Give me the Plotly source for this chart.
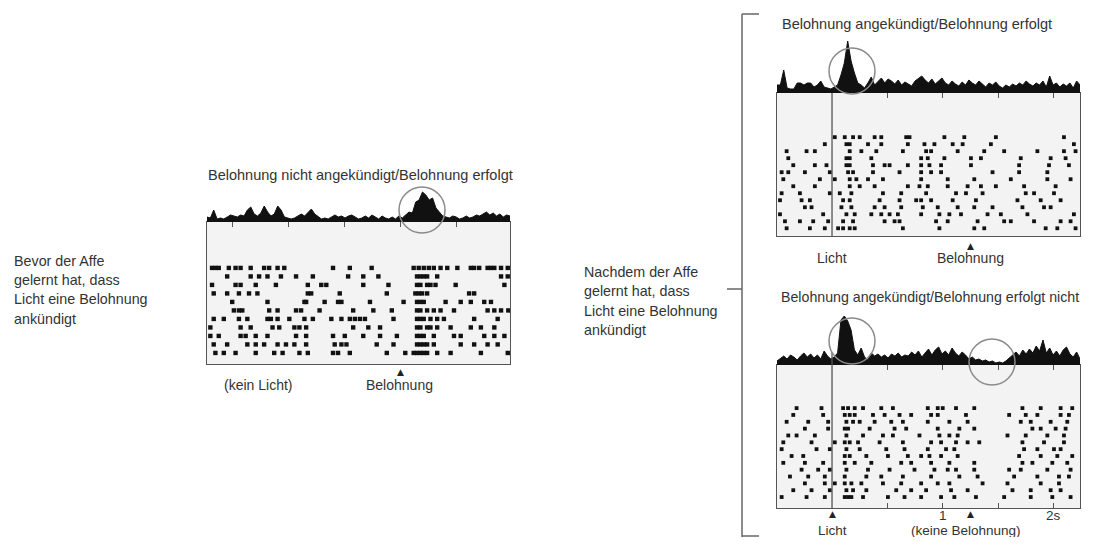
import numpy as np
import plotly.graph_objects as go

# The page body has an 8px margin, so the figure is drawn 8px smaller and
# every reference pixel position is shifted by that margin.
OFF = 8
W, H = 1094 - 2 * OFF, 545 - 2 * OFF
FONT = "Liberation Sans, Arial, Helvetica, sans-serif"
TXT = "#333333"
BOX = "#555555"
DOT = "#111111"

# ---------------- data ----------------
# Left panel: time in ms relative to reward
left_range = [-1725, 980]
left_ticks = [-1500, -1000, -500, 0, 500]
left_hist = [5, 4, 12, 3, 4, 3, 5, 7, 6, 5,
             7, 6, 12, 15, 8, 6, 9, 16, 10, 6,
             8, 16, 12, 5, 4, 3, 4, 6, 8, 6,
             9, 13, 8, 5, 3, 4, 3, 5, 7, 5,
             6, 4, 6, 7, 5, 3, 4, 6, 4, 7,
             5, 3, 6, 4, 3, 5, 3, 6, 4, 7,
             10, 9, 20, 22, 30, 27, 22, 24, 14, 10,
             6, 5, 4, 6, 5, 3, 4, 6, 4, 5,
             7, 6, 8, 10, 7, 9, 6, 8, 5, 7,
             6]
left_raster = [
    [-1680, -1650, -1620, -1530, -1470, -1425, -1335, -1215, -1170, -1095, -1035, -600, -450, -255, 120, 165, 210, 255, 300, 360, 420, 510, 630, 660, 705, 780, 810, 840, 900, 960],
    [-1545, -1335, -1260, -1185, -1065, -930, -780, -465, -330, -195, 150, 180, 210, 240, 330, 900, 960],
    [-1680, -1470, -1425, -1290, -1110, -825, -705, -660, -330, -105, 150, 180, 240, 270, 315, 495, 930],
    [-1665, -1545, -1440, -1350, -1275, -825, -795, -540, -120, 135, 165, 195, 240, 615, 660],
    [-1500, -1185, -855, -840, -675, -555, -525, -270, 30, 150, 180, 210, 405, 540, 630, 750, 810],
    [-1485, -1440, -1410, -1170, -1095, -930, -885, -720, -420, -240, -75, 150, 180, 240, 300, 360, 480, 780, 840, 900, 965],
    [-1665, -1575, -1440, -1365, -1185, -1155, -1095, -990, -855, -780, -615, -525, -450, -405, -360, -315, -60, 150, 180, 210, 270, 330, 390, 660, 870],
    [-1695, -1425, -1335, -1140, -1080, -945, -900, -840, -420, -285, -180, 150, 180, 240, 270, 330, 450, 630, 720, 840],
    [-1695, -1620, -1425, -1380, -1290, -1185, -930, -840, -600, -495, -330, -180, -30, 150, 180, 210, 300, 480, 540, 750, 840, 930],
    [-1665, -1545, -1365, -1290, -1215, -1095, -1020, -945, -840, -585, -525, -480, -210, -60, 150, 180, 210, 240, 300, 540, 660, 780, 870],
    [-1650, -1575, -1470, -1290, -1125, -1050, -900, -825, -600, -555, -450, -120, 45, 120, 150, 180, 210, 240, 330, 450, 720, 960],
]

# Right panels: time in ms relative to light onset
right_range = [-497, 2240]
right_ticks = [500, 1000, 1500, 2000]
right_label_vals = [1000, 2000]
right_label_text = ["1", "2s"]
reward_time = 1250

top_hist = [8, 8, 23, 5, 4, 4, 10, 10, 8, 10,
            10, 6, 8, 12, 6, 5, 4, 6, 8, 18,
            30, 52, 32, 20, 10, 8, 5, 10, 16, 8,
            12, 15, 10, 14, 12, 9, 13, 8, 11, 9,
            7, 12, 15, 17, 13, 10, 14, 9, 12, 15,
            10, 8, 12, 9, 7, 11, 8, 13, 10, 8,
            12, 9, 6, 10, 8, 11, 7, 5, 8, 6,
            9, 7, 10, 8, 12, 9, 7, 10, 8, 12,
            6, 17, 8, 10, 6, 9, 7, 10, 5, 12,
            8]
top_raster = [
    [25, 115, 190, 250, 385, 445, 670, 700, 1015, 1195, 1480, 2095],
    [-65, 130, 160, 325, 445, 685, 835, 925, 1090, 1180, 1435, 2185],
    [-410, -230, -155, 160, 265, 400, 640, 850, 895, 1135, 1375, 1555, 1855, 2095, 2200],
    [-395, 130, 160, 355, 805, 865, 1015, 1255, 1345, 1705, 1975, 2110],
    [-350, -155, -50, 130, 160, 370, 475, 520, 685, 805, 880, 985, 1255, 1690, 1960, 2140],
    [-455, -395, -245, -20, 145, 190, 370, 610, 805, 895, 985, 1450, 1690, 1945],
    [-440, -110, 25, 160, 220, 325, 460, 805, 1045, 1285, 1615, 1945, 2155],
    [-350, -155, 160, 250, 385, 685, 790, 865, 1045, 1225, 1345, 1480, 1735, 2020],
    [-455, -290, -20, 70, 175, 460, 625, 850, 1120, 1210, 1360, 1750, 1825, 2005],
    [-470, -275, -200, 100, 160, 430, 610, 760, 805, 895, 1090, 1300, 1675, 1885, 2065],
    [-245, -185, 85, 175, 385, 475, 625, 820, 955, 1135, 1285, 1450, 1720, 1915, 1975],
    [-470, -80, 130, 205, 355, 445, 520, 595, 805, 970, 1060, 1165, 1405, 1525, 1765, 2185],
    [-425, -290, -170, -35, 100, 190, 475, 565, 610, 940, 1045, 1315, 1555, 1615, 1825, 2065, 2155],
    [-410, -200, -65, 55, 100, 160, 205, 640, 970, 1285, 1375, 1930, 2035, 2200],
]

bottom_hist = [4, 7, 9, 6, 10, 8, 5, 9, 12, 8,
               11, 7, 10, 6, 14, 9, 6, 8, 12, 45,
               49, 44, 35, 15, 10, 17, 8, 5, 12, 9,
               11, 8, 10, 7, 11, 9, 12, 8, 10, 9,
               13, 10, 14, 8, 12, 16, 10, 15, 18, 11,
               14, 10, 17, 12, 9, 13, 10, 6, 8, 5,
               6, 4, 5, 3, 4, 2, 3, 2, 4, 7,
               10, 13, 9, 15, 11, 16, 12, 19, 14, 25,
               12, 17, 10, 14, 9, 15, 18, 11, 8, 13,
               6]
bottom_raster = [
    [-320, -95, 100, 145, 205, 280, 445, 550, 865, 955, 1000, 1120, 1285, 1720, 1885, 2065, 2170],
    [-350, -80, 115, 160, 205, 370, 475, 610, 715, 895, 955, 1210, 1600, 1750, 1855, 2065, 2140],
    [-410, -215, -35, 130, 190, 250, 385, 535, 640, 865, 1060, 1225, 1705, 1795, 1975, 2125],
    [-245, -35, 115, 145, 340, 565, 670, 955, 1150, 1285, 1810, 1885, 2020, 2110],
    [-395, -320, -155, 130, 280, 460, 550, 790, 970, 1060, 1135, 1585, 1750, 1945, 2095],
    [-440, -185, 25, 115, 160, 235, 430, 640, 895, 985, 1120, 1225, 1330, 1720, 1915, 2095],
    [-455, -140, -20, 130, 250, 490, 655, 865, 1030, 1105, 1735, 1855, 2005, 2065],
    [-365, -260, 115, 160, 310, 505, 685, 805, 880, 985, 1135, 1690, 1885, 2035, 2170],
    [-440, -245, -80, 115, 205, 355, 625, 715, 895, 1060, 1285, 1720, 1810, 1990, 2125],
    [-275, -125, -20, 130, 325, 520, 745, 925, 1045, 1120, 1285, 1600, 1705, 1945, 2155],
    [-380, -215, -65, 115, 310, 445, 640, 895, 1150, 1315, 1645, 1855, 2050, 2140],
    [-245, -65, 25, 115, 175, 265, 460, 625, 805, 955, 1060, 1360, 1585, 1885, 2050],
    [-350, -185, -20, 130, 190, 310, 580, 715, 850, 1075, 1225, 1630, 1795, 1975, 2065],
    [-455, -230, -65, 115, 145, 175, 280, 505, 655, 805, 985, 1105, 1300, 1555, 1795, 1990, 2155],
]

# ---------------- helpers ----------------
def px(x):
    return (x - OFF) / W


def py(y):
    return 1 - (y - OFF) / H


fig = go.Figure()


def add_raster(rows, xa, ya, size):
    xs, ys = [], []
    for i, row in enumerate(rows):
        xs += row
        ys += [i + 1] * len(row)
    fig.add_trace(go.Scatter(x=xs, y=ys, mode="markers", xaxis=xa, yaxis=ya,
                             marker=dict(symbol="square", size=size, color=DOT, line=dict(width=0)),
                             hoverinfo="skip", showlegend=False))


def add_hist(vals, rng, xa, ya):
    xs = np.linspace(rng[0], rng[1], len(vals))
    fig.add_trace(go.Scatter(x=xs, y=vals, mode="lines", fill="tozeroy", xaxis=xa, yaxis=ya,
                             line=dict(color=DOT, width=1), fillcolor=DOT,
                             hoverinfo="skip", showlegend=False))


add_raster(left_raster, "x", "y", 4.4)
add_hist(left_hist, left_range, "x2", "y2")
add_raster(top_raster, "x3", "y3", 3.8)
add_hist(top_hist, right_range, "x4", "y4")
add_raster(bottom_raster, "x5", "y5", 3.8)
add_hist(bottom_hist, right_range, "x6", "y6")

# panel geometry (reference pixels)
L = dict(x0=207, x1=510, box_top=222, box_bot=364, hist_top=162)
TR = dict(x0=777, x1=1080, box_top=93, box_bot=236, hist_top=33)
BR = dict(x0=777, x1=1080, box_top=365, box_bot=508, hist_top=305)


def xa_raster(g, rng, tickvals, side, mirror, anchor="y"):
    return dict(domain=[px(g["x0"]), px(g["x1"])], range=rng, anchor=anchor,
                showline=True, linecolor=BOX, linewidth=1.3, mirror=mirror, side=side,
                ticks="inside", ticklen=5, tickwidth=1.2, tickcolor=BOX,
                tickvals=tickvals, showticklabels=False,
                showgrid=False, zeroline=False, fixedrange=True)


def ya_raster(g, rng, anchor):
    return dict(domain=[py(g["box_bot"]), py(g["box_top"])], range=rng, anchor=anchor,
                showline=True, linecolor=BOX, linewidth=1.3, mirror=True,
                ticks="", showticklabels=False, showgrid=False, zeroline=False, fixedrange=True)


def xa_hist(g, rng, anchor):
    return dict(domain=[px(g["x0"]), px(g["x1"])], range=rng, anchor=anchor, visible=False,
                showgrid=False, zeroline=False, fixedrange=True)


def ya_hist(g, anchor):
    return dict(domain=[py(g["box_top"]), py(g["hist_top"])], range=[0, 60], anchor=anchor,
                visible=False, showgrid=False, zeroline=False, fixedrange=True)


fig.update_layout(
    width=W, height=H, margin=dict(l=0, r=0, t=0, b=0),
    paper_bgcolor="white", plot_bgcolor="rgba(0,0,0,0)",
    showlegend=False,
    xaxis=xa_raster(L, left_range, left_ticks, "top", True, anchor="y"),
    yaxis=ya_raster(L, [12.3, -4.4], "x"),
    xaxis2=xa_hist(L, left_range, "y2"),
    yaxis2=ya_hist(L, "x2"),
    xaxis3=xa_raster(TR, right_range, right_ticks, "top", True, anchor="y3"),
    yaxis3=ya_raster(TR, [15.1, -5.3], "x3"),
    xaxis4=xa_hist(TR, right_range, "y4"),
    yaxis4=ya_hist(TR, "x4"),
    xaxis5=xa_raster(BR, right_range, right_ticks, "bottom", "ticks", anchor="y5"),
    yaxis5=ya_raster(BR, [15.6, -5.3], "x5"),
    xaxis6=xa_hist(BR, right_range, "y6"),
    yaxis6=ya_hist(BR, "x6"),
)

shapes = []
# raster backgrounds
for g in (L, TR, BR):
    shapes.append(dict(type="rect", xref="paper", yref="paper", layer="below",
                       x0=px(g["x0"]), x1=px(g["x1"]), y0=py(g["box_bot"]), y1=py(g["box_top"]),
                       fillcolor="#f3f3f3", line=dict(width=0)))
# light onset lines
shapes.append(dict(type="line", xref="x3", yref="paper", x0=0, x1=0, y0=py(236), y1=py(93),
                   line=dict(color=BOX, width=1.3)))
shapes.append(dict(type="line", xref="x5", yref="paper", x0=0, x1=0, y0=py(508), y1=py(352),
                   line=dict(color=BOX, width=1.3)))
# circles
for cx, cy, r in [(422, 210, 23), (852, 71, 23), (852, 341, 23), (992, 362, 23)]:
    shapes.append(dict(type="circle", xref="paper", yref="paper",
                       x0=px(cx - r), x1=px(cx + r), y0=py(cy + r), y1=py(cy - r),
                       line=dict(color="#8a8a8a", width=1.5)))
# bracket
BR_COL = "#666666"
for (xa, ya, xb, yb) in [(742, 14, 742, 537), (742, 14, 759, 14), (742, 536, 759, 536), (727, 289, 742, 289)]:
    shapes.append(dict(type="line", xref="paper", yref="paper",
                       x0=px(xa), y0=py(ya), x1=px(xb), y1=py(yb),
                       line=dict(color=BR_COL, width=1.5)))
fig.update_layout(shapes=shapes)

ann = []


def text(x, y, s, size=14, anchor="center"):
    ann.append(dict(x=px(x), y=py(y), xref="paper", yref="paper",
                    text=s, showarrow=False, xanchor=anchor, yanchor="middle",
                    font=dict(family=FONT, size=size, color=TXT)))


# titles
text(360, 175, "Belohnung nicht angekündigt/Belohnung erfolgt", 14.5)
text(780, 24, "Belohnung angekündigt/Belohnung erfolgt", 14.5, "left")
text(779, 297, "Belohnung angekündigt/Belohnung erfolgt nicht", 14.2, "left")

# side texts
for i, s in enumerate(["Bevor der Affe", "gelernt hat, dass", "Licht eine Belohnung", "ankündigt"]):
    text(12, 261 + i * 19.2, s, 14.3, "left")
for i, s in enumerate(["Nachdem der Affe", "gelernt hat, dass", "Licht eine Belohnung", "ankündigt"]):
    text(582, 272 + i * 19.4, s, 14.3, "left")

# event labels
text(258, 385, "(kein Licht)")
text(399, 385, "Belohnung")
text(832, 258, "Licht")
text(970, 258, "Belohnung")
text(832, 530, "Licht", 13.5)
text(966, 530, "(keine Belohnung)", 13.5)

# time-axis labels of the bottom-right panel, positioned on its data axis
for v, s in zip(right_label_vals, right_label_text):
    ann.append(dict(x=v, xref="x5", y=py(515), yref="paper", text=s, showarrow=False,
                    xanchor="center", yanchor="middle",
                    font=dict(family=FONT, size=13.5, color=TXT)))

# event markers (triangles) placed at event times on the data axes
tri = dict(showarrow=False, yref="paper", xanchor="center", yanchor="middle",
           font=dict(family="DejaVu Sans", size=9, color="#222222"), text="▲")
ann.append(dict(tri, x=0, xref="x", y=py(372)))
ann.append(dict(tri, x=reward_time, xref="x3", y=py(246)))
ann.append(dict(tri, x=0, xref="x5", y=py(514)))
ann.append(dict(tri, x=reward_time, xref="x5", y=py(514)))

fig.update_layout(annotations=ann)

fig.write_html("out.html")
